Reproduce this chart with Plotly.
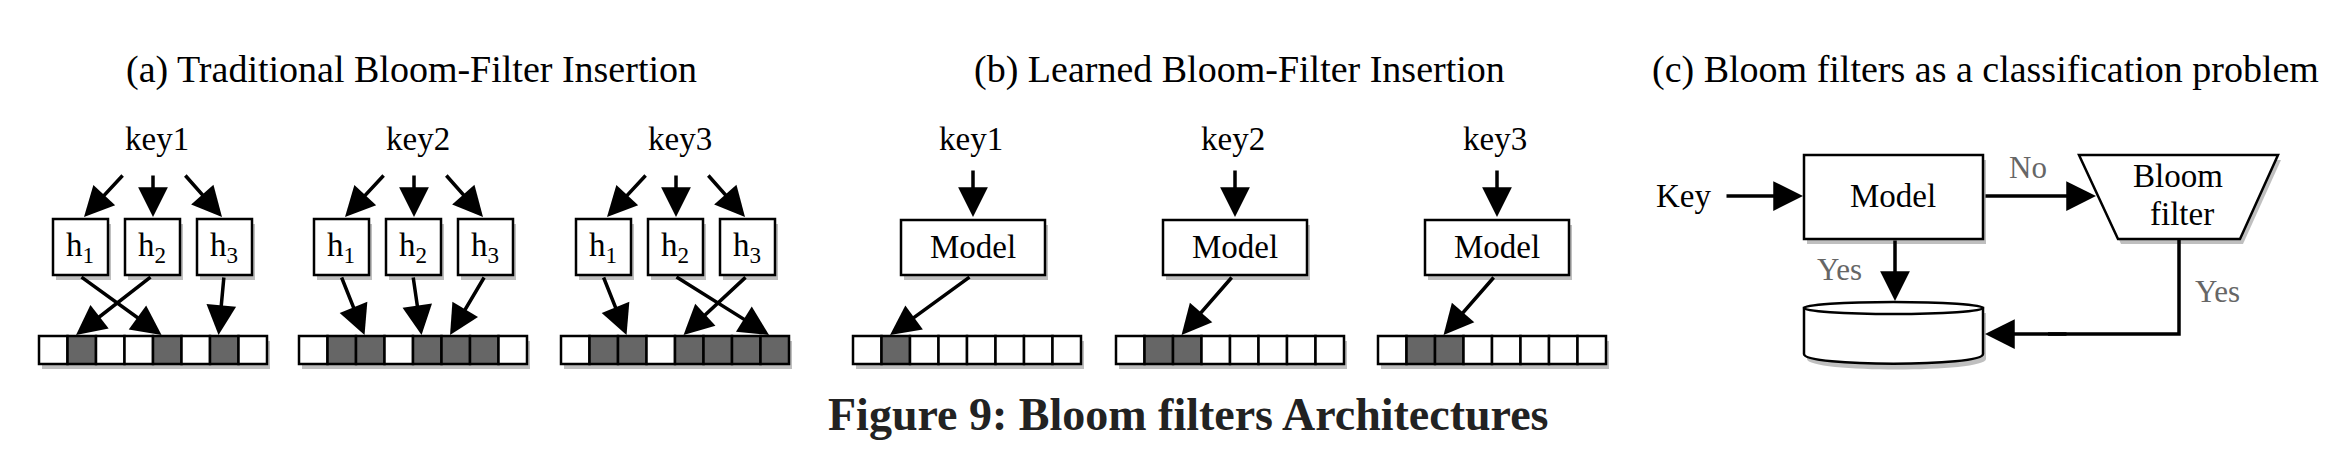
import plotly.graph_objects as go

# ---- data ----
panel_titles = ["(a) Traditional Bloom-Filter Insertion",
                "(b) Learned Bloom-Filter Insertion",
                "(c) Bloom filters as a classification problem"]
keys = ["key1", "key2", "key3"]
hash_names = ["h<sub>1</sub>", "h<sub>2</sub>", "h<sub>3</sub>"]
bits_a = [[0, 1, 0, 0, 1, 0, 1, 0],
          [0, 1, 1, 0, 1, 1, 1, 0],
          [0, 1, 1, 0, 1, 1, 1, 1]]
hash_targets = [[4, 1, 6], [2, 4, 5], [2, 7, 4]]   # cell each hash points to
bits_b = [[0, 1, 0, 0, 0, 0, 0, 0],
          [0, 1, 1, 0, 0, 0, 0, 0],
          [0, 1, 1, 0, 0, 0, 0, 0]]
model_targets = [1, 2, 2]
caption = "Figure 9: Bloom filters Architectures"

FONT = "Liberation Serif"
GRAY = "#666666"
shapes, ann = [], []


def box(x0, y0, x1, y1, fill="white", shadow=True):
    if shadow:
        shapes.append(dict(type="rect", x0=x0 + 3, y0=y0 + 5, x1=x1 + 3, y1=y1 + 5,
                           fillcolor="rgba(0,0,0,0.25)", line=dict(width=0), layer="below"))
    shapes.append(dict(type="rect", x0=x0, y0=y0, x1=x1, y1=y1, fillcolor=fill,
                       line=dict(color="black", width=2.5)))


def arrow(x0, y0, x1, y1):
    ann.append(dict(x=x1, y=y1, ax=x0, ay=y0, xref="x", yref="y", axref="x", ayref="y",
                    text="", showarrow=True, arrowhead=2, arrowsize=1.7,
                    arrowwidth=3.5, arrowcolor="black"))


def text(x, y, s, size=33, color="black", bold=False):
    ann.append(dict(x=x, y=y, xref="x", yref="y", text=f"<b>{s}</b>" if bold else s,
                    showarrow=False, font=dict(family=FONT, size=size, color=color)))


def bitrow(x0, bits, y0=337, y1=365, w=28.5):
    shapes.append(dict(type="rect", x0=x0 + 3, y0=y0 + 5, x1=x0 + w * len(bits) + 3, y1=y1 + 5,
                       fillcolor="rgba(0,0,0,0.25)", line=dict(width=0), layer="below"))
    for i, b in enumerate(bits):
        shapes.append(dict(type="rect", x0=x0 + i * w, y0=y0, x1=x0 + (i + 1) * w, y1=y1,
                           fillcolor="#666666" if b else "white",
                           line=dict(color="black", width=2.5)))


def cell_x(x0, i, w=28.5):
    return x0 + w * (i + 0.3)


# ---- panel (a) ----
text(403, 70, panel_titles[0], size=38)
a_off = [0, 261, 523]
a_rows = [31, 291, 553]
for g in range(3):
    o = a_off[g]
    text(149 + o, 140, keys[g])
    hx = [45 + o, 117 + o, 189 + o]
    for j in range(3):
        box(hx[j], 220, hx[j] + 55, 276)
        text(hx[j] + 27, 248, hash_names[j], size=33)
    arrow(116 + o, 175, 76 + o, 218)
    arrow(145 + o, 175, 145 + o, 218)
    arrow(176 + o, 175, 214 + o, 218)
    bitrow(a_rows[g], bits_a[g])
    for j in range(3):
        arrow(hx[j] + 27, 277, cell_x(a_rows[g], hash_targets[g][j]), 336)

# ---- panel (b) ----
text(1231, 70, panel_titles[1], size=38)
b_off = [0, 262, 524]
b_rows = [845, 1108, 1370]
for g in range(3):
    o = b_off[g]
    text(963 + o, 140, keys[g])
    arrow(965 + o, 170, 965 + o, 218)
    box(893 + o, 221, 1037 + o, 276)
    text(965 + o, 248, "Model")
    bitrow(b_rows[g], bits_b[g])
    arrow(963 + o, 277, cell_x(b_rows[g], model_targets[g]), 336)

# ---- panel (c) ----
text(1977, 70, panel_titles[2], size=38)
text(1675, 197, "Key")
arrow(1717, 197, 1795, 197)
box(1796, 156, 1975, 240)
text(1885, 197, "Model")
arrow(1976, 197, 2088, 197)
text(2020, 168, "No", color=GRAY, size=31)
shapes.append(dict(type="path", path="M 2074,161 L 2273,161 L 2235,245 L 2113,245 Z",
                   fillcolor="rgba(0,0,0,0.25)", line=dict(width=0), layer="below"))
shapes.append(dict(type="path", path="M 2071,156 L 2270,156 L 2232,240 L 2110,240 Z",
                   fillcolor="white", line=dict(color="black", width=2.5)))
text(2170, 177, "Bloom")
text(2174, 215, "filter")
arrow(1887, 240, 1887, 302)
text(1831, 270, "Yes", color=GRAY, size=31)
# cylinder
shapes.append(dict(type="path", path="M 1799,314 L 1799,360 C 1799,374 1978,374 1978,360 L 1978,314 Z",
                   fillcolor="rgba(0,0,0,0.25)", line=dict(width=0), layer="below"))
shapes.append(dict(type="path", path="M 1796,309 L 1796,355 C 1796,368 1975,368 1975,355 L 1975,309 Z",
                   fillcolor="white", line=dict(color="black", width=2.5)))
shapes.append(dict(type="circle", x0=1796, y0=303, x1=1975, y1=315,
                   fillcolor="white", line=dict(color="black", width=2.5)))
shapes.append(dict(type="path", path="M 2171,240 L 2171,335 L 2040,335",
                   line=dict(color="black", width=3.5)))
arrow(2060, 335, 1977, 335)
text(2209, 292, "Yes", color=GRAY, size=31)

# ---- caption ----
text(1180, 415, caption, size=46, color="#222222", bold=True)

fig = go.Figure()
fig.update_layout(width=2342, height=462, margin=dict(l=0, r=0, t=0, b=0),
                  plot_bgcolor="white", paper_bgcolor="white",
                  xaxis=dict(range=[0, 2342], visible=False, fixedrange=True),
                  yaxis=dict(range=[471, 9], visible=False, fixedrange=True),
                  shapes=shapes, annotations=ann, showlegend=False)
fig.write_html("out.html")
